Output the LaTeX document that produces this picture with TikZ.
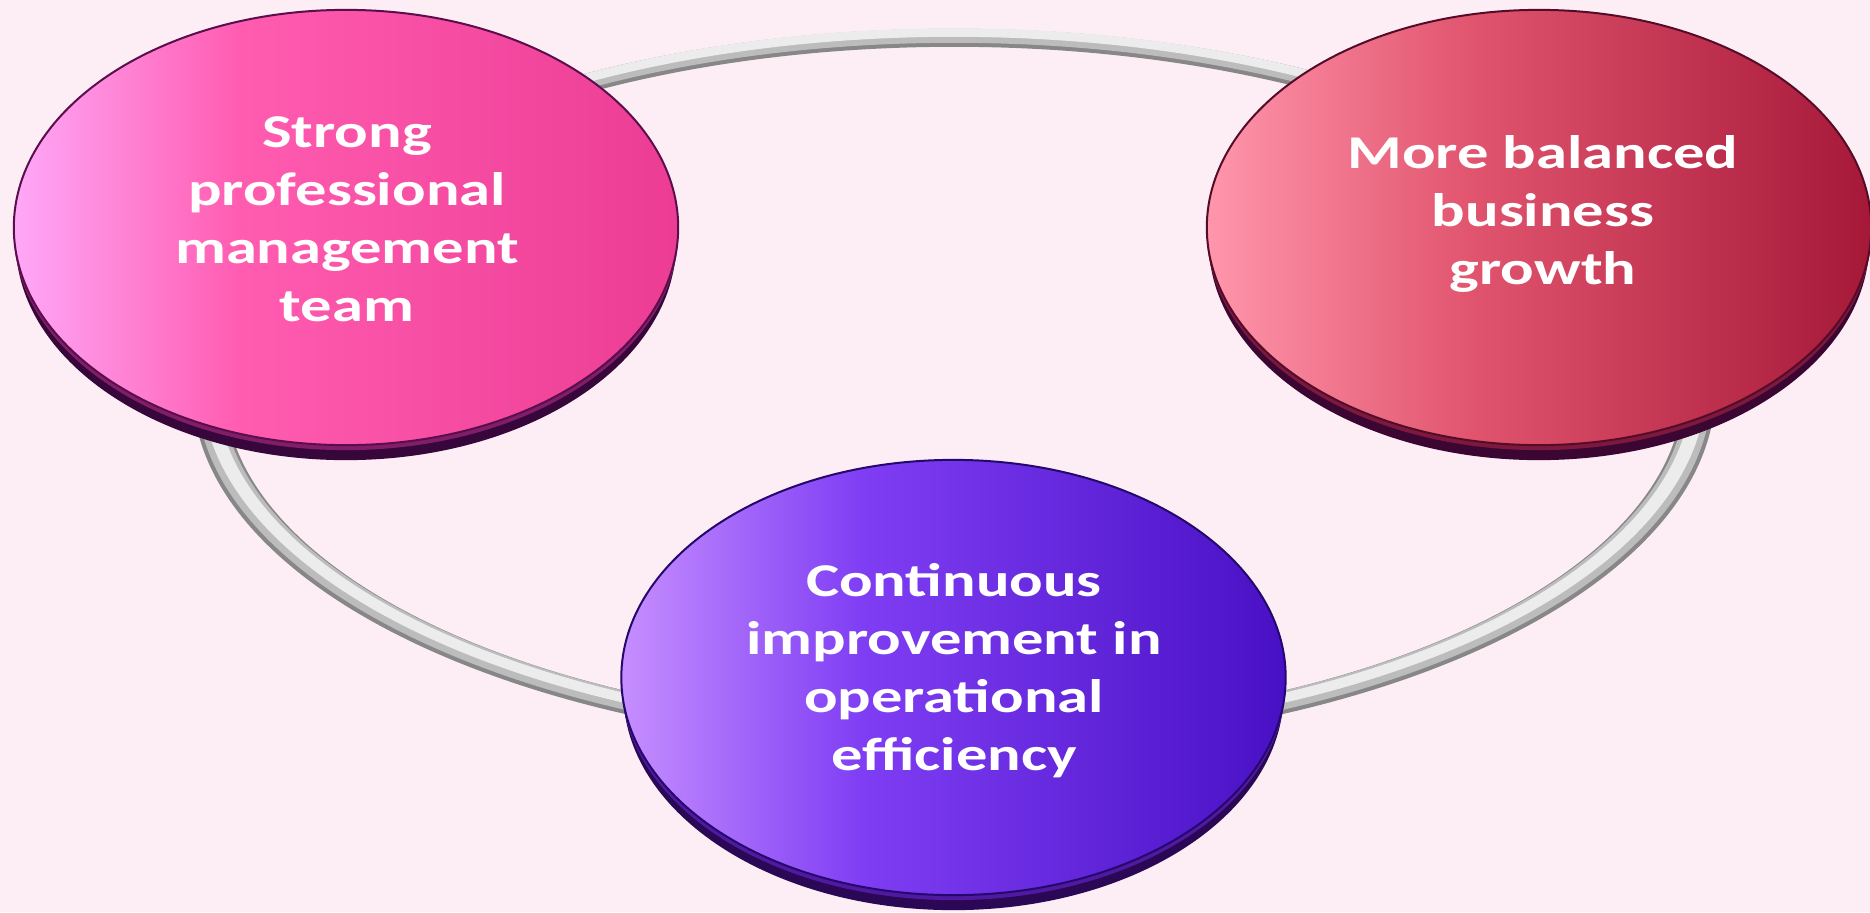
\documentclass[tikz,border=0pt]{standalone}
\usepackage{fontspec}
\newfontfamily\labelfont{Carlito}[FakeStretch=1.33]
\usetikzlibrary{shapes.geometric}

% page and ring tones
\definecolor{pagebg}{RGB}{252,238,244}
\definecolor{ringdark}{RGB}{135,135,135}
\definecolor{ringmid}{RGB}{188,188,188}
\definecolor{ringlight}{RGB}{236,236,236}
% pink disc
\definecolor{pinkL}{RGB}{255,168,248}
\definecolor{pinkM}{RGB}{255,92,176}
\definecolor{pinkR}{RGB}{236,60,148}
\definecolor{pinkRim}{RGB}{55,6,58}
\definecolor{pinkBand}{RGB}{130,30,105}
\definecolor{pinkEdge}{RGB}{90,14,75}
% red disc
\definecolor{redL}{RGB}{255,150,172}
\definecolor{redM}{RGB}{225,84,110}
\definecolor{redR}{RGB}{166,24,56}
\definecolor{redRim}{RGB}{60,6,50}
\definecolor{redBand}{RGB}{125,25,62}
\definecolor{redEdge}{RGB}{85,12,40}
% violet disc
\definecolor{violetL}{RGB}{198,142,255}
\definecolor{violetM}{RGB}{128,62,244}
\definecolor{violetR}{RGB}{72,16,196}
\definecolor{violetRim}{RGB}{42,8,86}
\definecolor{violetBand}{RGB}{80,25,160}
\definecolor{violetEdge}{RGB}{36,8,110}

% left-to-right face gradients (the path maps onto 25bp..75bp)
\pgfdeclarehorizontalshading{pinkface}{100bp}{color(0bp)=(pinkL); color(25bp)=(pinkL); color(42bp)=(pinkM); color(75bp)=(pinkR); color(100bp)=(pinkR)}
\pgfdeclarehorizontalshading{redface}{100bp}{color(0bp)=(redL); color(25bp)=(redL); color(45bp)=(redM); color(75bp)=(redR); color(100bp)=(redR)}
\pgfdeclarehorizontalshading{violetface}{100bp}{color(0bp)=(violetL); color(25bp)=(violetL); color(43bp)=(violetM); color(75bp)=(violetR); color(100bp)=(violetR)}

\begin{document}
\begin{tikzpicture}[x=0.01cm, y=-0.01cm,
  disc/.style={ellipse, minimum width=6.64cm, minimum height=4.35cm,
    inner sep=0pt, draw=#1, line width=0.02cm},
  rimfill/.style={fill=#1},
  disctext/.style={text=white, align=center, inner sep=0pt,
    font=\labelfont\bfseries\fontsize{13.37pt}{16.5pt}\selectfont},
]
% canvas
\fill[pagebg] (0,0) rectangle (1870,912);
\useasboundingbox (0,0) rectangle (1870,912);

% the grey tube ring behind the discs, lit from above and a little
% thicker towards the viewer
\coordinate (ring) at (954,388);
\fill[ringdark, even odd rule]
  ([yshift=-0.01cm]ring) ellipse [x radius=7.61cm, y radius=3.60cm]
  ([yshift=0.01cm]ring) ellipse [x radius=7.29cm, y radius=3.40cm];
\fill[ringmid, even odd rule]
  ([yshift=0.01cm]ring) ellipse [x radius=7.575cm, y radius=3.58cm]
  ([yshift=0.03cm]ring) ellipse [x radius=7.325cm, y radius=3.42cm];
\fill[ringlight, even odd rule]
  ([yshift=0.045cm]ring) ellipse [x radius=7.52cm, y radius=3.55cm]
  ([yshift=0.05cm]ring) ellipse [x radius=7.38cm, y radius=3.46cm];

% disc centres
\coordinate (mgmt-c) at (346,227.5);
\coordinate (growth-c) at (1539,227.5);
\coordinate (ops-c) at (953.5,677.5);

% pink disc: Strong professional management team
\fill[rimfill=pinkRim] ([yshift=-0.15cm]mgmt-c) ellipse [x radius=3.30cm, y radius=2.175cm];
\fill[rimfill=pinkBand] ([yshift=-0.05cm]mgmt-c) ellipse [x radius=3.32cm, y radius=2.175cm];
\node[disc=pinkEdge, shading=pinkface, shading angle=0]
  (mgmt) at (mgmt-c) {};
\node[disctext] (mgmt-text) at (347,219)
  {Strong\\professional\\management\\team};

% red disc: More balanced business growth
\fill[rimfill=redRim] ([yshift=-0.15cm]growth-c) ellipse [x radius=3.30cm, y radius=2.175cm];
\fill[rimfill=redBand] ([yshift=-0.05cm]growth-c) ellipse [x radius=3.32cm, y radius=2.175cm];
\node[disc=redEdge, shading=redface, shading angle=0]
  (growth) at (growth-c) {};
\node[disctext] (growth-text) at (1543,214)
  {More balanced\\business\\growth};

% violet disc: Continuous improvement in operational efficiency
\fill[rimfill=violetRim] ([yshift=-0.15cm]ops-c) ellipse [x radius=3.30cm, y radius=2.175cm];
\fill[rimfill=violetBand] ([yshift=-0.05cm]ops-c) ellipse [x radius=3.32cm, y radius=2.175cm];
\node[disc=violetEdge, shading=violetface, shading angle=0]
  (ops) at (ops-c) {};
\node[disctext] (ops-text) at (954,671)
  {Continuous\\improvement in\\operational\\efficiency};
\end{tikzpicture}
\end{document}
